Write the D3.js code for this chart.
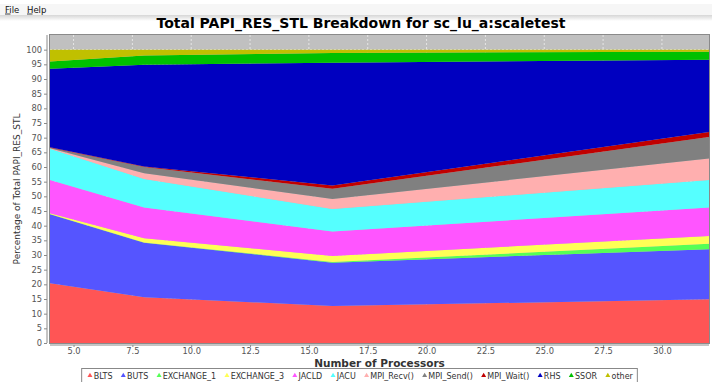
<!DOCTYPE html>
<html>
<head>
<meta charset="utf-8">
<script src="https://cdn.jsdelivr.net/npm/d3@7"></script>
<style>
  body { margin: 0; background: #ffffff; }
  svg { display: block; font-family: "DejaVu Sans", sans-serif; }
</style>
</head>
<body>
<svg id="chart" width="712" height="382"></svg>
<script>
// Processor counts on the x axis
const processors = [4, 8, 16, 32];

// Percentage of total PAPI_RES_STL per routine, one value per processor count
const BLTS       = [20.4, 15.6, 12.6, 14.9];
const BUTS       = [23.5, 18.6, 14.8, 17.1];
const EXCHANGE_1 = [0.05, 0.1, 0.2, 1.8];
const EXCHANGE_3 = [0.3, 1.4, 2.1, 2.7];
const JACLD      = [11.35, 10.5, 8.3, 9.7];
const JACU       = [10.6, 9.7, 7.7, 9.4];
const MPI_Recv   = [0.2, 2.0, 3.4, 7.3];
const MPI_Send   = [0.2, 2.1, 3.5, 7.3];
const MPI_Wait   = [0.1, 0.15, 1.1, 1.7];
const RHS        = [26.8, 34.75, 41.8, 24.7];
const SSOR       = [2.5, 3.1, 3.4, 2.7];
const other      = [4.0, 2.0, 1.1, 0.7];

const seriesNames = ["BLTS", "BUTS", "EXCHANGE_1", "EXCHANGE_3", "JACLD", "JACU",
                     "MPI_Recv()", "MPI_Send()", "MPI_Wait()", "RHS", "SSOR", "other"];
const seriesValues = [BLTS, BUTS, EXCHANGE_1, EXCHANGE_3, JACLD, JACU,
                      MPI_Recv, MPI_Send, MPI_Wait, RHS, SSOR, other];
const seriesColors = ["#ff5555", "#5555ff", "#55ff55", "#ffff55", "#ff55ff", "#55ffff",
                      "#ffafaf", "#808080", "#c00000", "#0000c0", "#00c000", "#c0c000"];

const xTickValues = [5, 7.5, 10, 12.5, 15, 17.5, 20, 22.5, 25, 27.5, 30];
const yTickValues = [0, 5, 10, 15, 20, 25, 30, 35, 40, 45, 50, 55, 60, 65, 70, 75, 80, 85, 90, 95, 100];

const titleText = "Total PAPI_RES_STL Breakdown for sc_lu_a:scaletest";
const xLabel = "Number of Processors";
const yLabel = "Percentage of Total PAPI_RES_STL";

// Table rows for d3.stack
const rows = processors.map((p, i) => {
  const r = { x: p };
  seriesNames.forEach((n, k) => { r[n] = seriesValues[k][i]; });
  return r;
});

const svg = d3.select("#chart");
const W = 712, H = 382;
const plot = { left: 50, right: 709, top: 35, bottom: 343 };

// Window chrome: menu bar with a soft shadow underneath
const defs = svg.append("defs");
const grad = defs.append("linearGradient").attr("id", "menuShade")
  .attr("x1", 0).attr("y1", 0).attr("x2", 0).attr("y2", 1);
grad.append("stop").attr("offset", "0%").attr("stop-color", "#d6d6d6");
grad.append("stop").attr("offset", "100%").attr("stop-color", "#ffffff");
svg.append("rect").attr("x", 0).attr("y", 4).attr("width", W).attr("height", 11).attr("fill", "#f6f6f6");
svg.append("rect").attr("x", 0).attr("y", 15).attr("width", W).attr("height", 6).attr("fill", "url(#menuShade)");

const menu = svg.append("g").attr("font-size", 8.5).attr("fill", "#111");
[["File", 5], ["Help", 27]].forEach(([t, mx]) => {
  menu.append("text").attr("x", mx).attr("y", 12.5).text(t);
  // underline the mnemonic letter
  menu.append("line").attr("x1", mx).attr("x2", mx + 5.5)
    .attr("y1", 14).attr("y2", 14).attr("stroke", "#111").attr("stroke-width", 0.8);
});

// Scales
const x = d3.scaleLinear().domain([4, 32]).range([plot.left, plot.right]);
const y = d3.scaleLinear().domain([0, 105]).range([plot.bottom, plot.top]);

// Plot background
svg.append("rect")
  .attr("x", plot.left).attr("y", plot.top)
  .attr("width", plot.right - plot.left).attr("height", plot.bottom - plot.top)
  .attr("fill", "#c0c0c0");

// Gridlines
const grid = svg.append("g").attr("stroke", "#ffffff").attr("stroke-width", 0.6)
  .attr("stroke-dasharray", "2,2");
grid.selectAll("line.v").data(xTickValues).join("line").attr("class", "v")
  .attr("x1", d => x(d)).attr("x2", d => x(d))
  .attr("y1", plot.top).attr("y2", plot.bottom);
grid.selectAll("line.h").data(yTickValues).join("line").attr("class", "h")
  .attr("x1", plot.left).attr("x2", plot.right)
  .attr("y1", d => y(d)).attr("y2", d => y(d));

// Stacked areas
const stack = d3.stack().keys(seriesNames);
const layers = stack(rows);
const area = d3.area()
  .x(d => x(d.data.x))
  .y0(d => y(d[0]))
  .y1(d => y(d[1]));
svg.append("g").selectAll("path").data(layers).join("path")
  .attr("d", area)
  .attr("fill", (d, i) => seriesColors[i]);

// Plot outline
svg.append("rect")
  .attr("x", plot.left - 0.5).attr("y", plot.top - 0.5)
  .attr("width", plot.right - plot.left + 1).attr("height", plot.bottom - plot.top + 1)
  .attr("fill", "none").attr("stroke", "#8a8a8a").attr("stroke-width", 1);

// Axes
const axisColor = "#8a8a8a";
const yAxis = svg.append("g")
  .attr("transform", `translate(${plot.left - 3},0)`)
  .call(d3.axisLeft(y).tickValues(yTickValues).tickFormat(d3.format("d")).tickSizeInner(3).tickSizeOuter(0).tickPadding(2));
const xAxis = svg.append("g")
  .attr("transform", `translate(0,${plot.bottom + 2})`)
  .call(d3.axisBottom(x).tickValues(xTickValues).tickFormat(d3.format(".1f")).tickSizeInner(2).tickSizeOuter(0).tickPadding(1.5));
[yAxis, xAxis].forEach(a => {
  a.select(".domain").attr("stroke", axisColor);
  a.selectAll(".tick line").attr("stroke", axisColor);
  a.selectAll(".tick text").attr("fill", "#555").attr("font-size", 8.3)
    .attr("font-family", "DejaVu Sans, sans-serif");
});
yAxis.select(".domain").attr("d", `M0,${plot.top}V${plot.bottom}`);
xAxis.select(".domain").attr("d", `M${plot.left},0H${plot.right}`);

// Title and axis labels
svg.append("text").attr("x", 361).attr("y", 28).attr("text-anchor", "middle")
  .attr("font-size", 14).attr("font-weight", "bold").attr("fill", "#000").text(titleText);
svg.append("text").attr("x", (plot.left + plot.right) / 2).attr("y", 366.5)
  .attr("text-anchor", "middle").attr("font-size", 10.5).attr("font-weight", "bold")
  .attr("fill", "#333").text(xLabel);
svg.append("text")
  .attr("transform", `translate(20,${(plot.top + plot.bottom) / 2}) rotate(-90)`)
  .attr("text-anchor", "middle").attr("font-size", 9).attr("fill", "#333").text(yLabel);

// Legend
const legend = svg.append("g").attr("font-size", 8).attr("fill", "#333");
const items = legend.selectAll("g").data(seriesNames).join("g");
items.append("text").text(d => d).attr("y", 378.5);
let cursor = 0;
const gap = 8;
const offsets = [];
items.each(function () {
  const w = this.querySelector("text").getComputedTextLength();
  offsets.push(cursor);
  cursor += 6.5 + w + gap;
});
const totalW = cursor - gap;
const legendLeft = 360 - totalW / 2;
items.attr("transform", (d, i) => `translate(${legendLeft + offsets[i]},0)`);
items.select("text").attr("x", 6.5);
items.append("path")
  .attr("d", "M0.3,377 L2.8,372.8 L5.3,377 Z")
  .attr("fill", (d, i) => seriesColors[i]);
legend.append("rect")
  .attr("x", legendLeft - 5.5).attr("y", 368.5)
  .attr("width", totalW + 10).attr("height", 14)
  .attr("fill", "none").attr("stroke", "#888").attr("stroke-width", 1);
</script>
</body>
</html>
